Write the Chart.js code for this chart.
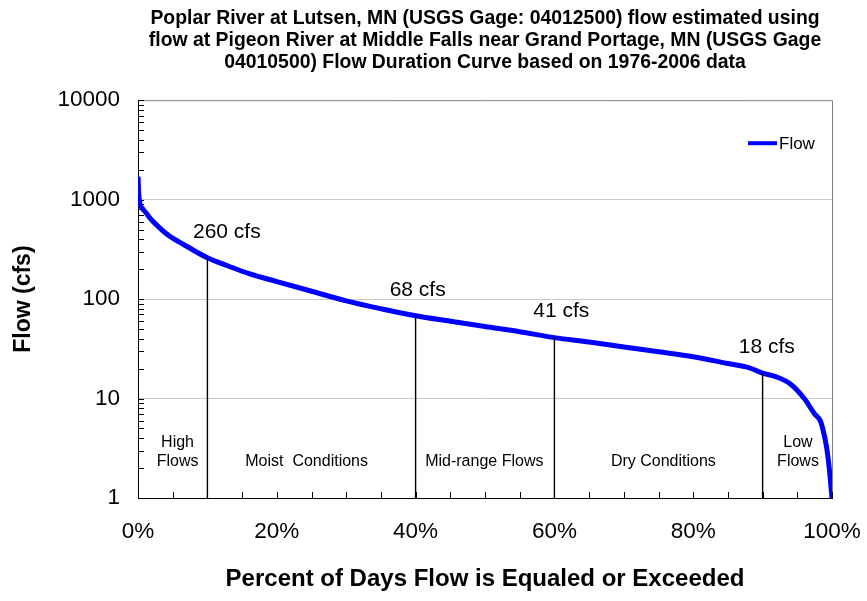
<!DOCTYPE html>
<html lang="en">

<head>
  <meta charset="UTF-8" />
  <title>Poplar River Flow Duration Curve</title>
  <script src="https://cdn.jsdelivr.net/npm/chart.js"></script>
  <style>
    html, body { margin: 0; padding: 0; background: #fff; }
    .chart-box { width: 867px; height: 601px; }
  </style>
</head>

<body>
  <div class="chart-box">
    <canvas id="flowChart"></canvas>
  </div>

  <script>
    // flow duration curve
    const percentExceeded = [0, 0.1, 0.3, 0.6, 1, 2, 3, 4, 5, 7, 10, 13, 16, 20, 25, 30, 35, 40, 45, 50,
      55, 60, 65, 70, 75, 80, 85, 88, 90, 92, 94, 96, 97.5, 98.3, 98.6, 99.2, 99.6, 100];
    const flowCfs = [1700, 1150, 900, 820, 760, 620, 530, 460, 410, 340, 260, 215, 180, 150, 120, 96, 80, 68, 60, 53,
      47, 41, 37, 33, 29.5, 26.3, 22.5, 20.5, 18, 16.5, 14, 10, 7, 6, 5.2, 3.3, 2, 1];

    // zone boundaries and the flow at each one
    const breakPercents = [10, 40, 60, 90];
    const breakFlows = [260, 68, 41, 18];
    const breakLabels = ['260 cfs', '68 cfs', '41 cfs', '18 cfs'];
    const breakLabelAt = [12.8, 40.3, 61, 90.6];

    // flow zones along the bottom
    const zoneNames = [['High', 'Flows'], ['Moist  Conditions'], ['Mid-range Flows'], ['Dry Conditions'], ['Low', 'Flows']];
    const zoneCenters = [5.7, 24.3, 49.9, 75.7, 95.1];

    const yDecades = [1, 10, 100, 1000, 10000];
    const xTickStep = 20;
    const xMinorStep = 5;

    const FONT = 'Arial, "Liberation Sans", sans-serif';

    const dividerSets = breakPercents.map((p, i) => ({
      label: 'div' + i,
      data: [{ x: p, y: 1 }, { x: p, y: breakFlows[i] }],
      borderColor: '#000',
      borderWidth: 1.4,
      pointRadius: 0,
      tension: 0
    }));

    // minor ticks, labels, legend
    const extras = {
      id: 'extras',
      beforeDatasetsDraw(chart) {
        const { ctx, chartArea: a, scales: { x, y } } = chart;
        ctx.save();
        ctx.strokeStyle = '#808080';
        ctx.lineWidth = 1;
        ctx.beginPath();
        ctx.moveTo(a.left, a.top + 0.5);
        ctx.lineTo(a.right + 0.5, a.top + 0.5);
        ctx.lineTo(a.right + 0.5, a.bottom);
        ctx.stroke();

        ctx.strokeStyle = '#000';
        ctx.beginPath();
        for (let v = 0; v <= 100; v += xMinorStep) {
          const px = Math.round(x.getPixelForValue(v)) + 0.5;
          ctx.moveTo(px, a.bottom);
          ctx.lineTo(px, a.bottom - 6);
        }
        for (let d = 0; d < yDecades.length; d++) {
          for (let m = 1; m <= 9; m++) {
            const v = yDecades[d] * m;
            if (v > 10000) break;
            const py = Math.round(y.getPixelForValue(v)) + 0.5;
            ctx.moveTo(a.left, py);
            ctx.lineTo(a.left + 6, py);
          }
        }
        ctx.stroke();
        ctx.restore();
      },
      afterDatasetsDraw(chart) {
        const { ctx, chartArea: a, scales: { x, y } } = chart;
        ctx.save();
        ctx.fillStyle = '#000';
        ctx.textAlign = 'center';
        ctx.textBaseline = 'middle';
        ctx.font = '21px ' + FONT;
        breakLabels.forEach((t, i) => {
          ctx.fillText(t, x.getPixelForValue(breakLabelAt[i]), y.getPixelForValue(breakFlows[i]) - 26);
        });

        ctx.font = '16px ' + FONT;
        zoneNames.forEach((lines, i) => {
          const cx = x.getPixelForValue(zoneCenters[i]);
          lines.forEach((t, j) => {
            const off = (lines.length - 1 - j) * 19;
            ctx.fillText(t, cx, a.bottom - 36 - off);
          });
        });

        // legend
        const ly = a.top + 43;
        ctx.strokeStyle = '#0000ff';
        ctx.lineWidth = 4;
        ctx.beginPath();
        ctx.moveTo(a.right - 84, ly);
        ctx.lineTo(a.right - 55, ly);
        ctx.stroke();
        ctx.textAlign = 'left';
        ctx.font = '17px ' + FONT;
        ctx.fillText('Flow', a.right - 53, ly + 1);
        ctx.restore();
      }
    };

    new Chart(document.getElementById('flowChart'), {
      type: 'line',
      data: {
        datasets: [
          ...dividerSets,
          {
            label: 'Flow',
            data: percentExceeded.map((p, i) => ({ x: p, y: flowCfs[i] })),
            borderColor: '#0000ff',
            borderWidth: 5,
            pointRadius: 0,
            cubicInterpolationMode: 'monotone'
          }
        ]
      },
      options: {
        responsive: true,
        maintainAspectRatio: false,
        animation: false,
        layout: { padding: { left: 0, right: 35, top: 0, bottom: 0 } },
        plugins: {
          legend: { display: false },
          tooltip: { enabled: false },
          title: {
            display: true,
            fullSize: false,
            text: [
              'Poplar River at Lutsen, MN (USGS Gage: 04012500) flow estimated using',
              'flow at Pigeon River at Middle Falls near Grand Portage, MN (USGS Gage',
              '04010500) Flow Duration Curve based on 1976-2006 data'
            ],
            color: '#000',
            font: { family: FONT, size: 19.4, weight: 'bold', lineHeight: 1.12 },
            padding: { top: 8, bottom: 27 }
          }
        },
        scales: {
          x: {
            type: 'linear',
            min: 0,
            max: 100,
            afterFit(s) { s.height = 103; s.paddingRight = 0; },
            ticks: {
              stepSize: xTickStep,
              callback: v => v + '%',
              color: '#000',
              font: { family: FONT, size: 22.5 },
              padding: 20,
              maxRotation: 0
            },
            grid: { display: false, drawTicks: false },
            border: { color: '#000', width: 1 },
            title: {
              display: true,
              text: 'Percent of Days Flow is Equaled or Exceeded',
              color: '#000',
              font: { family: FONT, size: 24, weight: 'bold', lineHeight: 1.15 },
              padding: { top: 0, bottom: 8 }
            }
          },
          y: {
            type: 'logarithmic',
            min: 1,
            max: 10000,
            afterFit(s) { s.width = 138; },
            afterBuildTicks(s) { s.ticks = yDecades.map(v => ({ value: v })); },
            ticks: {
              callback: v => String(v),
              color: '#000',
              font: { family: FONT, size: 22.5 },
              padding: 18
            },
            grid: {
              drawTicks: false,
              color: c => (c.tick && (c.tick.value === 1 || c.tick.value === 10000)) ? 'rgba(0,0,0,0)' : '#c8c8c8',
              lineWidth: 1
            },
            border: { color: '#000', width: 1 },
            title: {
              display: true,
              text: 'Flow (cfs)',
              color: '#000',
              font: { family: FONT, size: 23, weight: 'bold' },
              padding: { top: 10 }
            }
          }
        }
      },
      plugins: [extras]
    });
  </script>
</body>

</html>
